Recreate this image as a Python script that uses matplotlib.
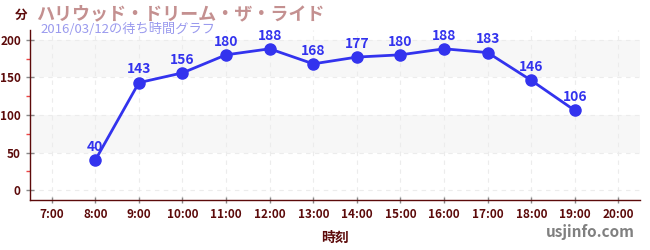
import matplotlib
matplotlib.use('Agg')
import matplotlib.pyplot as plt
from matplotlib.ticker import MultipleLocator

plt.rcParams['font.family'] = ['Noto Sans CJK JP', 'DejaVu Sans']

# data
hours = [8, 9, 10, 11, 12, 13, 14, 15, 16, 17, 18, 19]
waits = [40, 143, 156, 180, 188, 168, 177, 180, 188, 183, 146, 106]
tick_hours = list(range(7, 21))
tick_labels = [f"{h}:00" for h in tick_hours]

dark = '#5c0a0a'
blue = '#3333ee'

fig = plt.figure(figsize=(6.5, 2.5), dpi=100)
ax = fig.add_axes([0.046, 0.2, 0.939, 0.68])

# background bands
for lo in (50, 150):
    ax.axhspan(lo, lo + 50, color='#f7f7f7', zorder=0, lw=0)

ax.plot(hours, waits, color=blue, lw=2, marker='o', ms=8, zorder=3)
for h, w in zip(hours, waits):
    ax.annotate(str(w), (h, w), xytext=(0, 4.5), textcoords='offset points',
                ha='center', va='bottom', color=blue, fontsize=10,
                fontweight='bold', zorder=4)

ax.set_xlim(6.5, 20.5)
ax.set_ylim(-13, 213)
ax.set_xticks(tick_hours)
ax.set_xticklabels(tick_labels)
ax.yaxis.set_major_locator(MultipleLocator(50))
ax.yaxis.set_minor_locator(MultipleLocator(25))

ax.grid(True, which='major', color='#ececec', ls=(0, (4, 4)), lw=0.8, zorder=1)

for s in ('top', 'right'):
    ax.spines[s].set_visible(False)
for s in ('left', 'bottom'):
    ax.spines[s].set_color(dark)
    ax.spines[s].set_linewidth(1)

ax.tick_params(axis='both', which='major', labelsize=8.5, labelcolor=dark,
               color='#888888', length=4, width=1)
ax.tick_params(axis='y', which='major', direction='inout', length=6)
ax.tick_params(axis='y', which='minor', color='#ee4444', length=3, width=1)
ax.tick_params(axis='x', which='major', direction='inout', length=5)
for lab in ax.get_xticklabels() + ax.get_yticklabels():
    lab.set_fontweight('bold')

ax.set_xlabel('時刻', color=dark, fontsize=10, fontweight='bold', labelpad=7)

fig.text(0.023, 0.94, '分', color=dark, fontsize=9, fontweight='bold',
         ha='left', va='center')
fig.text(0.056, 0.945, 'ハリウッド・ドリーム・ザ・ライド', color='#c49090',
         fontsize=13, fontweight='bold', ha='left', va='center')
fig.text(0.062, 0.882, '2016/03/12の待ち時間グラフ', color='#9a9aee',
         fontsize=9.5, ha='left', va='center')
fig.text(0.977, 0.07, 'usjinfo.com', color='#808080', fontsize=11,
         fontweight='bold', ha='right', va='center')

fig.savefig('out.png', dpi=100)
